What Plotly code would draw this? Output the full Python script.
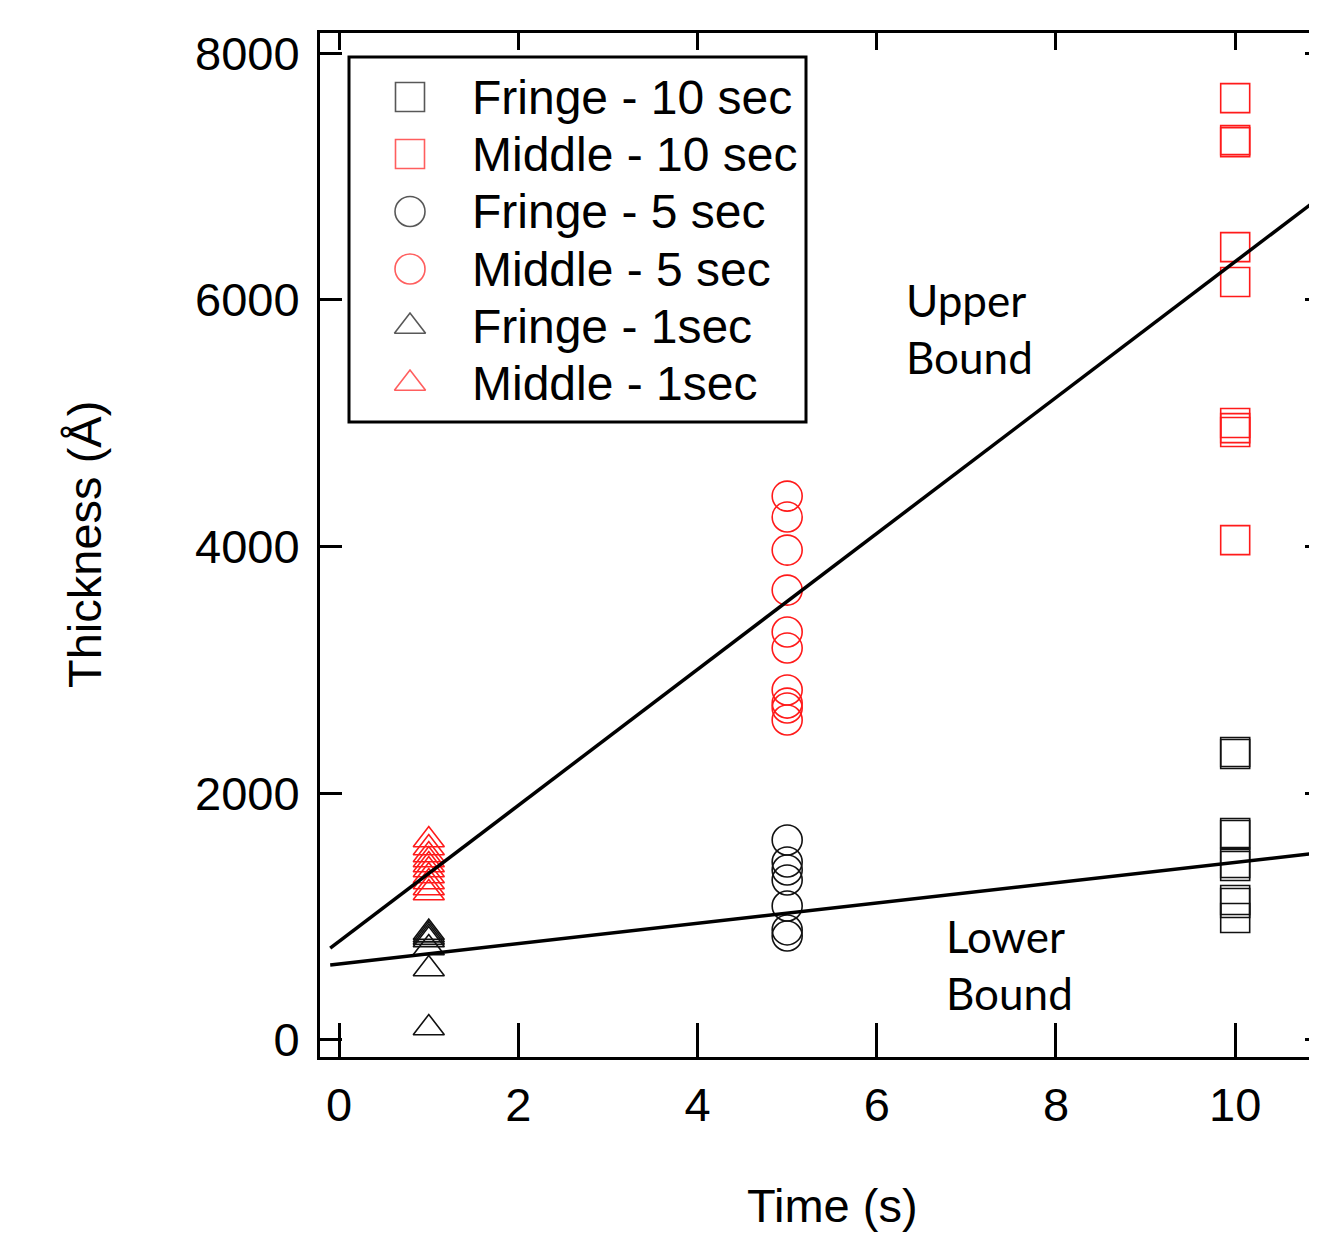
import plotly.graph_objects as go

# ---- data ----
time_10 = 10
time_5 = 5
time_1 = 1
fringe_10 = [2334, 2318, 1678, 1662, 1435, 1410, 1135, 1110, 989]
middle_10 = [7635, 7295, 7278, 6427, 6144, 5001, 4960, 4928, 4052]
fringe_5 = [1621, 1443, 1378, 1297, 1086, 892, 843]
middle_5 = [4409, 4239, 3971, 3647, 3307, 3177, 2837, 2731, 2691, 2594]
fringe_1 = [870, 850, 830, 810, 745, 575, 97]
middle_1 = [1621, 1556, 1499, 1459, 1418, 1378, 1329, 1281, 1232, 1191]

upper_slope, upper_intercept = 551, 800
lower_slope, lower_intercept = 82.4, 616
fit_x = [-0.1, 11.5]

x_ticks = [0, 2, 4, 6, 8, 10]
y_ticks = [0, 2000, 4000, 6000, 8000]
x_range = [-0.214, 10.913]
y_range = [-138, 8163]

legend_names = ["Fringe - 10 sec", "Middle - 10 sec", "Fringe - 5 sec",
                "Middle - 5 sec", "Fringe - 1sec", "Middle - 1sec"]

RED = "#ff1a1a"
BLACK = "#111111"
FONT = "Liberation Sans"

# page has an 8px body margin; plot area spans x 320..1317, y 33..1057 (page px)
OFF = 8
PL, PR, PT, PB = 320, 1317, 33, 1057
W, H = 1317 - OFF, 1239 - OFF


def px(xa):
    return (xa - PL) / (PR - PL)


def py(ya):
    return (PB - ya) / (PB - PT)


fig = go.Figure()

styles = [("square-open", BLACK, 29), ("square-open", RED, 29),
          ("circle-open", BLACK, 30), ("circle-open", RED, 30),
          ("triangle-up-open", BLACK, 27), ("triangle-up-open", RED, 27)]
series = [(time_10, fringe_10), (time_10, middle_10), (time_5, fringe_5),
          (time_5, middle_5), (time_1, fringe_1), (time_1, middle_1)]

for name, (xv, ys), (sym, col, sz) in zip(legend_names, series, styles):
    fig.add_trace(go.Scatter(
        x=[xv] * len(ys), y=ys, mode="markers", name=name, showlegend=False,
        marker=dict(symbol=sym, size=sz, color=col,
                    line=dict(color=col, width=1.6)),
    ))

for slope, icpt in [(upper_slope, upper_intercept), (lower_slope, lower_intercept)]:
    fig.add_trace(go.Scatter(
        x=fit_x, y=[icpt + slope * v for v in fit_x], mode="lines",
        line=dict(color="black", width=3.5), showlegend=False, hoverinfo="skip",
    ))

# dummy trace for the mirrored (top/right) tick axes
fig.add_trace(go.Scatter(x=[None], y=[None], xaxis="x2", yaxis="y2",
                         showlegend=False, hoverinfo="skip"))

# legend box (drawn manually to match the large symbols)
leg_left, leg_right, leg_top, leg_bottom = 349, 806, 57, 422
row_y = [97, 154, 211.5, 269, 326.5, 383.5]
sym_x = 410
text_x = 470
fig.add_trace(go.Scatter(
    x=[px(sym_x)] * 6, y=[py(v) for v in row_y], xaxis="x3", yaxis="y3",
    mode="markers", showlegend=False, hoverinfo="skip",
    marker=dict(symbol=[s[0] for s in styles], size=[s[2] for s in styles],
                color=[s[1] for s in styles],
                line=dict(color=[s[1] for s in styles], width=1.6)),
))
fig.add_shape(type="rect", xref="paper", yref="paper",
              x0=px(leg_left), x1=px(leg_right), y0=py(leg_bottom), y1=py(leg_top),
              line=dict(color="black", width=3), fillcolor="rgba(0,0,0,0)",
              layer="above")
for name, ry in zip(legend_names, row_y):
    fig.add_annotation(text=name, xref="paper", yref="paper",
                       x=px(text_x), y=py(ry), xanchor="left", yanchor="middle",
                       showarrow=False, font=dict(family=FONT, size=48))

axis_common = dict(showgrid=False, zeroline=False, showline=True,
                   linecolor="black", linewidth=3, ticks="inside",
                   tickcolor="black", tickwidth=3)

fig.update_layout(
    width=W, height=H,
    margin=dict(l=PL - OFF, r=0, t=PT - OFF, b=H - (PB - OFF)),
    paper_bgcolor="white", plot_bgcolor="white",
    font=dict(family=FONT, color="black", size=47),
    xaxis=dict(range=x_range, tickvals=x_ticks, ticklen=34,
               ticklabelstandoff=5, tickfont=dict(size=47), **axis_common),
    yaxis=dict(range=y_range, tickvals=y_ticks, ticklen=22,
               ticklabelstandoff=8, tickfont=dict(size=47), **axis_common),
    xaxis2=dict(range=x_range, tickvals=x_ticks, ticklen=17, overlaying="x",
                side="top", showticklabels=False, **axis_common),
    yaxis2=dict(range=y_range, tickvals=y_ticks, ticklen=12, overlaying="y",
                side="right", showticklabels=False, **axis_common),
    xaxis3=dict(range=[0, 1], overlaying="x", visible=False),
    yaxis3=dict(range=[0, 1], overlaying="y", visible=False),
    showlegend=False,
)

fig.add_annotation(text="Time (s)", xref="paper", yref="paper",
                   x=px(832), y=py(1205),
                   xanchor="center", yanchor="middle", showarrow=False,
                   font=dict(family=FONT, size=47))
fig.add_annotation(text="Thickness (Å)", xref="paper", yref="paper",
                   x=px(84), y=py(545), textangle=-90,
                   xanchor="center", yanchor="middle", showarrow=False,
                   font=dict(family=FONT, size=47))

label_font = dict(family="Lato", size=44, color="black")
for txt, xv, yv in [("Upper", 6.3, 5998), ("Bound", 6.3, 5536),
                    ("Lower", 6.75, 843), ("Bound", 6.75, 381)]:
    fig.add_annotation(text=txt, x=xv, y=yv, xanchor="left", yanchor="middle",
                       showarrow=False, font=label_font)

fig.write_html("out.html")
